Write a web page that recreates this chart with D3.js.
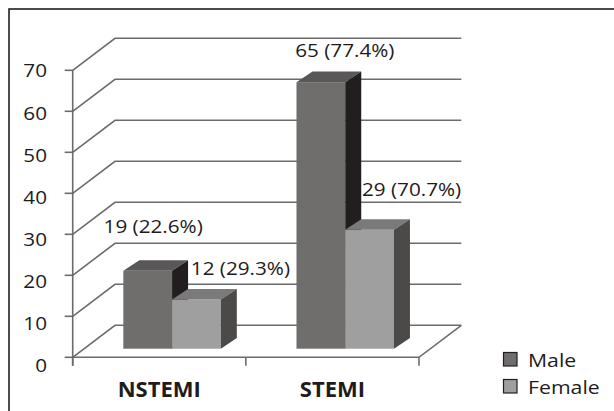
<!DOCTYPE html>
<html>
<head>
<meta charset="utf-8">
<script src="https://cdn.jsdelivr.net/npm/d3@7"></script>
<style>
html,body{margin:0;padding:0;background:#fff;}
svg{display:block;}
text{font-family:"Open Sans",sans-serif;fill:#1f1b1c;}
</style>
</head>
<body>
<svg id="chart" width="614" height="411"></svg>
<script>
// ---- data ----
const categories = ["NSTEMI", "STEMI"];
const seriesNames = ["Male", "Female"];
const maleValues = [19, 65];
const femaleValues = [12, 29];
const malePercents = ["22.6%", "77.4%"];
const femalePercents = ["29.3%", "70.7%"];
const yTickValues = [0, 10, 20, 30, 40, 50, 60, 70];

// ---- layout / style ----
const svg = d3.select("#chart");
const axisX = 72.7, floorRight = 419;
const wallDx = 42.3, wallDy = 32;          // depth of the 3D box
const barShiftX = 12.8, barShiftY = 8.6;   // bar front plane offset into depth
const barDx = 16, barDy = 10.6;            // bar depth
const gridColor = "#6b6b6b";
const textScaleX = 1.15;

const colors = {
  Male:   {front: "#6f6e6d", top: "#595757", side: "#221e1f"},
  Female: {front: "#a09f9f", top: "#7b7a7a", side: "#4c4a48"}
};
// label offsets relative to the top-front centre of each bar [male, female] per category
const labelOffsets = [
  [[5.5, -38], [44, -24.5]],
  [[24, -25], [42, -34]]
];

const y = d3.scaleLinear().domain([0, 70]).range([357.3, 70.3]);
const yLabel = d3.scaleLinear().domain([0, 70]).range([366, 71]);
const x = d3.scaleBand().domain(categories).range([axisX, floorRight])
  .paddingInner(0.437).paddingOuter(0.437 / 2);
const xs = d3.scaleBand().domain(seriesNames).range([0, x.bandwidth()]).padding(0);

// helper: horizontally stretched real text
function addText(parent, tx, ty, str, size, anchor, weight, sx) {
  const g = parent.append("g").attr("transform", `translate(${tx},${ty}) scale(${sx},1)`);
  g.append("text").attr("x", 0).attr("y", 0)
    .attr("text-anchor", anchor || "start")
    .style("font-size", size + "px")
    .style("font-weight", weight || "normal")
    .text(str);
  return g;
}

// border
svg.append("rect").attr("x", 9).attr("y", 9).attr("width", 640).attr("height", 440)
  .attr("fill", "#fff").attr("stroke", "#231f20").attr("stroke-width", 1.6);

// gridlines (left wall slant + back wall)
svg.append("g").selectAll("path").data(yTickValues).join("path")
  .attr("d", d => {
    const yy = y(d);
    return `M${axisX},${yy}L${axisX + wallDx},${yy - wallDy}L${floorRight + wallDx},${yy - wallDy}`;
  })
  .attr("fill", "none").attr("stroke", gridColor).attr("stroke-width", 1.6);

// floor front edge and right edge
const y0 = y(0);
svg.append("path")
  .attr("d", `M${axisX},${y0}L${floorRight},${y0}L${floorRight + wallDx},${y0 - wallDy}`)
  .attr("fill", "none").attr("stroke", gridColor).attr("stroke-width", 1.6);

// y axis line and ticks
svg.append("line").attr("x1", axisX).attr("x2", axisX).attr("y1", y(70)).attr("y2", y0 + 8.5)
  .attr("stroke", gridColor).attr("stroke-width", 1.6);
svg.append("g").selectAll("line").data(yTickValues).join("line")
  .attr("x1", axisX - 8).attr("x2", axisX).attr("y1", d => y(d)).attr("y2", d => y(d))
  .attr("stroke", gridColor).attr("stroke-width", 1.6);
const tickG = svg.append("g");
yTickValues.forEach(v => addText(tickG, 47, yLabel(v) + 6.4, String(v), 18, "end", "normal", textScaleX));

// category ticks
const catEdges = [axisX, axisX + x.step(), floorRight];
svg.append("g").selectAll("line").data(catEdges).join("line")
  .attr("x1", d => d).attr("x2", d => d).attr("y1", y0).attr("y2", y0 + 8.5)
  .attr("stroke", gridColor).attr("stroke-width", 1.6);

// category labels
svg.append("g").selectAll("text").data(categories).join("text")
  .attr("x", d => x(d) + x.bandwidth() / 2)
  .attr("y", 397).attr("text-anchor", "middle")
  .style("font-size", "22px").style("font-weight", "bold")
  .text(d => d);

// bars
const bars = [];
categories.forEach((c, i) => {
  bars.push({cat: c, ci: i, s: "Male", si: 0, v: maleValues[i], pct: malePercents[i]});
  bars.push({cat: c, ci: i, s: "Female", si: 1, v: femaleValues[i], pct: femalePercents[i]});
});
const barG = svg.append("g");
const labelG = svg.append("g");
bars.forEach(b => {
  const x0 = x(b.cat) + xs(b.s) + barShiftX;
  const x1 = x0 + xs.bandwidth();
  const yt = y(b.v) - barShiftY;
  const yb = y(0) - barShiftY;
  const g = barG.append("g");
  g.append("rect").attr("x", x0).attr("y", yt).attr("width", x1 - x0).attr("height", yb - yt)
    .attr("fill", colors[b.s].front);
  g.append("path")
    .attr("d", `M${x0},${yt}L${x0 + barDx},${yt - barDy}L${x1 + barDx},${yt - barDy}L${x1},${yt}Z`)
    .attr("fill", colors[b.s].top);
  g.append("path")
    .attr("d", `M${x1},${yt}L${x1 + barDx},${yt - barDy}L${x1 + barDx},${yb - barDy}L${x1},${yb}Z`)
    .attr("fill", colors[b.s].side);
  const off = labelOffsets[b.ci][b.si];
  addText(labelG, (x0 + x1) / 2 + off[0], yt + off[1], `${b.v} (${b.pct})`, 18, "middle", "normal", textScaleX);
});

// legend
const leg = svg.append("g");
seriesNames.forEach((s, i) => {
  const ly = 352.5 + i * 27;
  leg.append("rect").attr("x", 503.5).attr("y", ly).attr("width", 13.5).attr("height", 13.5)
    .attr("fill", colors[s].front).attr("stroke", "#231f20").attr("stroke-width", 1.2);
  addText(leg, 528, ly + 14, s, 18.5, "start", "normal", textScaleX);
});
</script>
</body>
</html>
